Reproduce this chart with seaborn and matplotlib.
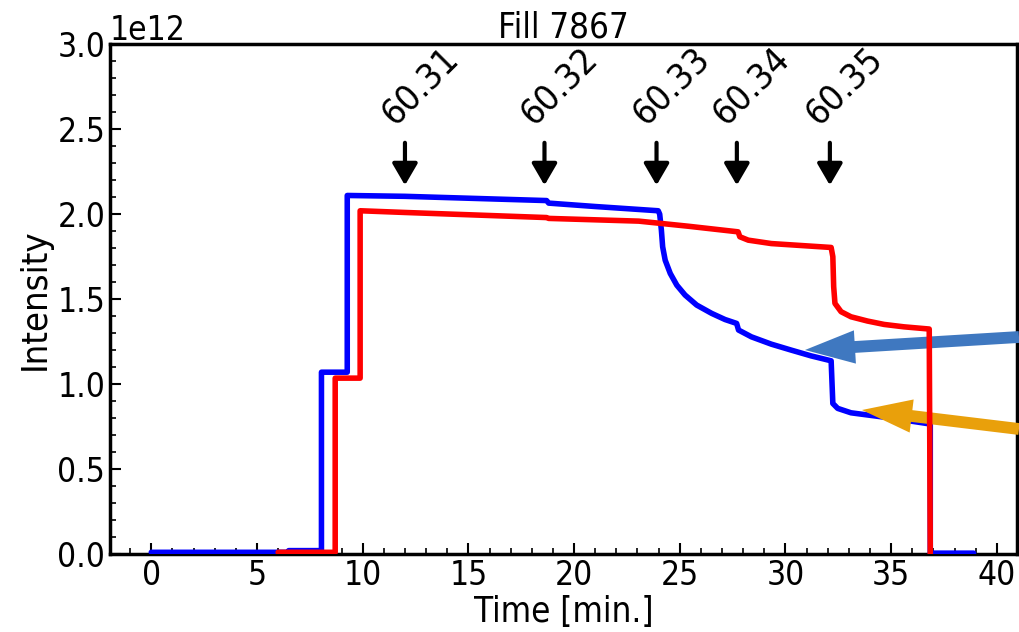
import numpy as np
import pandas as pd
import matplotlib
matplotlib.use("Agg")
import matplotlib.pyplot as plt
from matplotlib.ticker import MultipleLocator
import seaborn as sns

# ---- data ----
blue_t = [0, 6.5, 6.5, 8.05, 8.05, 9.27, 9.27, 12, 18.7, 18.8, 21, 23.98,
          24.05, 24.13, 24.19, 24.31, 24.55, 24.86, 25.25, 25.80, 26.51, 27.14, 27.69,
          27.78, 28.39, 29.33, 30.27, 31.21, 32.16, 32.24, 32.47, 33.1,
          35, 36.85, 36.85, 38.9]
blue_i = [0.01, 0.01, 0.02, 0.02, 1.07, 1.07, 2.11, 2.105, 2.08, 2.065, 2.045, 2.02,
          2.00, 1.906, 1.808, 1.729, 1.651, 1.582, 1.524, 1.465, 1.416, 1.380, 1.357,
          1.318, 1.278, 1.235, 1.200, 1.166, 1.137, 0.886, 0.857, 0.831,
          0.80, 0.765, 0.005, 0.005]
red_t = [6.0, 8.7, 8.7, 9.88, 9.88, 12, 18.7, 18.8, 23.06, 25.4, 27.76, 27.84, 28.24,
         29.33, 32.16, 32.24, 32.28, 32.34, 32.63, 33.1, 33.88, 34.67, 35.6, 36.8, 36.85]
red_i = [0.01, 0.01, 1.035, 1.035, 2.02, 2.01, 1.98, 1.975, 1.959, 1.929, 1.896, 1.867, 1.847,
         1.827, 1.804, 1.75, 1.573, 1.475, 1.426, 1.396, 1.371, 1.351, 1.337, 1.324, 0.0]
marker_t = [12.0, 18.6, 23.9, 27.7, 32.1]
marker_labels = ["60.31", "60.32", "60.33", "60.34", "60.35"]
scale = 1e12

sns.set_style("white")
plt.rcParams["font.family"] = ["DejaVu Sans"]
plt.rcParams["font.stretch"] = "condensed"
for k in ["text.color", "axes.labelcolor", "xtick.color", "ytick.color"]:
    plt.rcParams[k] = "black"

fig = plt.figure(figsize=(10.19, 6.32), dpi=100)
ax = fig.add_axes([0.108, 0.1234, 0.890, 0.8066])

df_b = pd.DataFrame({"t": blue_t, "I": np.array(blue_i) * scale})
df_r = pd.DataFrame({"t": red_t, "I": np.array(red_i) * scale})
sns.lineplot(data=df_b, x="t", y="I", ax=ax, sort=False, estimator=None,
             color="#0000ff", lw=4, solid_joinstyle="round", zorder=3)
sns.lineplot(data=df_r, x="t", y="I", ax=ax, sort=False, estimator=None,
             color="#ff0000", lw=4, solid_joinstyle="round", zorder=5)

ax.set_xlim(-1.95, 40.95)
ax.set_ylim(0, 3e12)
ax.xaxis.set_major_locator(MultipleLocator(5))
ax.xaxis.set_minor_locator(MultipleLocator(1))
ax.yaxis.set_major_locator(MultipleLocator(0.5e12))
ax.yaxis.set_minor_locator(MultipleLocator(0.1e12))
ax.tick_params(which="both", direction="in", labelsize=24, top=False, right=False,
               bottom=True, left=True, colors="black")
ax.tick_params(which="major", length=8, width=1.5)
ax.tick_params(which="minor", length=4, width=1.2)
ax.yaxis.get_offset_text().set_fontsize(24)
for s in ax.spines.values():
    s.set_linewidth(2.5)
    s.set_color("black")

ax.set_xlabel("Time [min.]", fontsize=25, labelpad=2)
ax.set_ylabel("Intensity", fontsize=26, labelpad=4)
ax.set_title("Fill 7867", fontsize=25, pad=5)

for t, lab in zip(marker_t, marker_labels):
    ax.annotate("", xy=(t, 2.17e12), xytext=(t, 2.42e12),
                arrowprops=dict(arrowstyle="-|>,head_width=0.35,head_length=0.6",
                                lw=3, color="black", mutation_scale=22,
                                shrinkA=0, shrinkB=0))
    ax.text(t + 0.7, 2.49e12, lab, rotation=45, ha="center", va="bottom", fontsize=26)

# external pointer arrows
for (tail, tip, col) in [((1019, 295), (805, 282), "#3f78c0"),
                         ((1019, 203), (862, 222), "#e9a00b")]:
    ax.annotate("", xy=tip, xycoords="figure pixels", xytext=tail,
                textcoords="figure pixels", annotation_clip=False, zorder=4,
                arrowprops=dict(arrowstyle="simple,head_length=3.6,head_width=2.4,tail_width=0.85",
                                color=col, mutation_scale=10, shrinkA=0, shrinkB=0, lw=0))

fig.savefig("out.png", dpi=100)
